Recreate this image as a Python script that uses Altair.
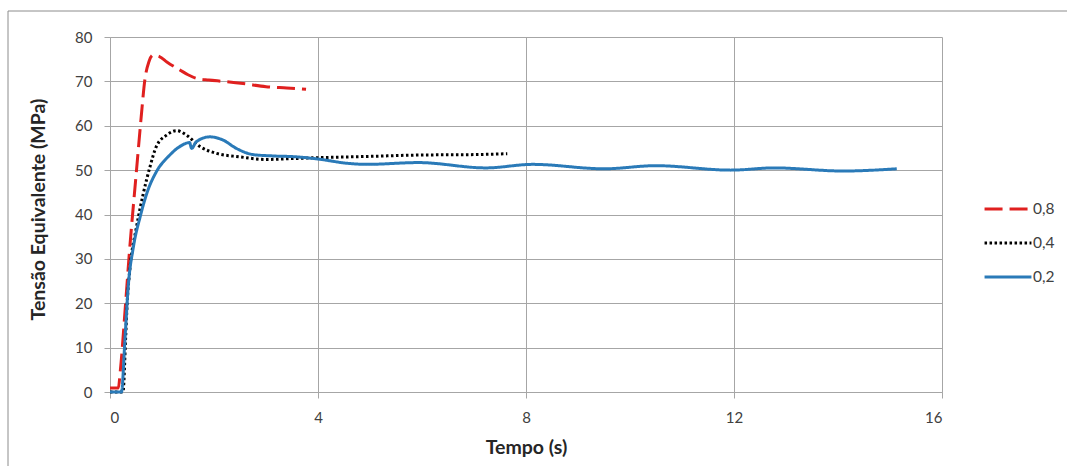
import altair as alt
import pandas as pd

series_names = ["0,8", "0,4", "0,2"]
series_colors = ["#e0201f", "#000000", "#2a7ab8"]

t_08 = [0, 0.16, 0.2, 0.3, 0.37, 0.51, 0.6, 0.67, 0.75, 0.83, 0.95, 1.1, 1.34,
        1.5, 1.66, 1.9, 2.17, 2.56, 3.0, 3.4, 3.77]
v_08 = [0.9, 0.9, 5, 20, 31, 50, 62, 70.3, 74.5, 75.9, 75.6, 74.3, 72.6,
        71.5, 70.7, 70.3, 70.0, 69.5, 68.8, 68.5, 68.2]

t_04 = [0, 0.25, 0.3, 0.33, 0.38, 0.51, 0.64, 0.77, 0.89, 1.09, 1.28, 1.47,
        1.73, 2.04, 2.49, 3.0, 3.5, 4.0, 5.0, 5.93, 7.0, 7.64]
v_04 = [0, 0, 12, 20, 27.4, 37.2, 44.7, 50.8, 55.3, 57.9, 58.9, 57.9,
        55.3, 53.8, 53.0, 52.4, 52.6, 52.8, 53.1, 53.4, 53.5, 53.7]

t_02 = [0, 0.22, 0.29, 0.35, 0.45, 0.58, 0.73, 0.89, 1.15, 1.34, 1.53, 1.57,
        1.66, 1.92, 2.17, 2.43, 2.75, 3.13, 3.58, 4.0, 4.6, 4.94, 5.93, 7.23,
        8.13, 9.5, 10.5, 11.94, 12.77, 14.1, 15.13]
v_02 = [0, 0, 12.4, 23.7, 32.7, 39.5, 45.5, 49.6, 53.4, 55.3, 56.2, 54.9,
        56.4, 57.5, 56.8, 54.9, 53.5, 53.2, 53.0, 52.5, 51.5, 51.3, 51.7, 50.5,
        51.3, 50.3, 51.0, 50.0, 50.5, 49.8, 50.3]

x_ticks = [0, 4, 8, 12, 16]
y_ticks = [0, 10, 20, 30, 40, 50, 60, 70, 80]

rows = []
for name, ts, vs in zip(series_names, [t_08, t_04, t_02], [v_08, v_04, v_02]):
    for i, (t, v) in enumerate(zip(ts, vs)):
        rows.append({"serie": name, "t": t, "v": v, "i": i})
df = pd.DataFrame(rows)

FONT = "Lato"
GRID = "#a6a6a6"
TXT = "#404040"

lines = alt.Chart(df).mark_line(interpolate="monotone", strokeWidth=3, strokeCap="butt").encode(
    x=alt.X("t:Q", scale=alt.Scale(domain=[0, 16], nice=False),
            axis=alt.Axis(values=x_ticks, title="Tempo (s)", titleX=416, titleY=61,
                          titleBaseline="alphabetic", labelPadding=12)),
    y=alt.Y("v:Q", scale=alt.Scale(domain=[0, 80], nice=False),
            axis=alt.Axis(values=y_ticks, title="Tensão Equivalente (MPa)", titleX=-62,
                          titleY=172, labelPadding=12)),
    color=alt.Color("serie:N", scale=alt.Scale(domain=series_names, range=series_colors),
                    legend=alt.Legend(title=None)),
    strokeDash=alt.StrokeDash("serie:N", scale=alt.Scale(domain=series_names,
                              range=[[18, 7], [2.5, 2.5], [1, 0]]),
                              legend=alt.Legend(title=None)),
    order="i:Q",
    detail="serie:N",
)

frame_data = alt.Data(values=[{"k": 1}])
top_line = alt.Chart(frame_data).mark_rule(color="#8c8c8c", strokeWidth=1).encode(
    x=alt.value(-102), x2=alt.value(957), y=alt.value(-26))
left_line = alt.Chart(frame_data).mark_rule(color="#8c8c8c", strokeWidth=1).encode(
    x=alt.value(-102), y=alt.value(-26), y2=alt.value(429))

chart = alt.layer(top_line, left_line, lines).properties(
    width=832, height=355,
    autosize=alt.AutoSizeParams(type="none"),
    padding={"left": 110, "top": 37, "right": 125, "bottom": 74},
    background="white",
).configure_view(stroke=None).configure_axis(
    gridColor=GRID, gridWidth=1, domainColor=GRID, tickColor=GRID, tickSize=6,
    labelFont=FONT, labelFontSize=15, labelColor=TXT,
    titleFont=FONT, titleFontSize=19.5, titleFontWeight="bold", titleColor="#262626",
).configure_legend(
    orient="none", legendX=873, legendY=147, symbolType="stroke",
    symbolSize=2200, symbolStrokeWidth=3, labelFont=FONT, labelFontSize=15.5,
    labelColor=TXT, labelOffset=0, rowPadding=-13,
)

chart.save("out.html", embed_options={"renderer": "svg", "actions": False})
